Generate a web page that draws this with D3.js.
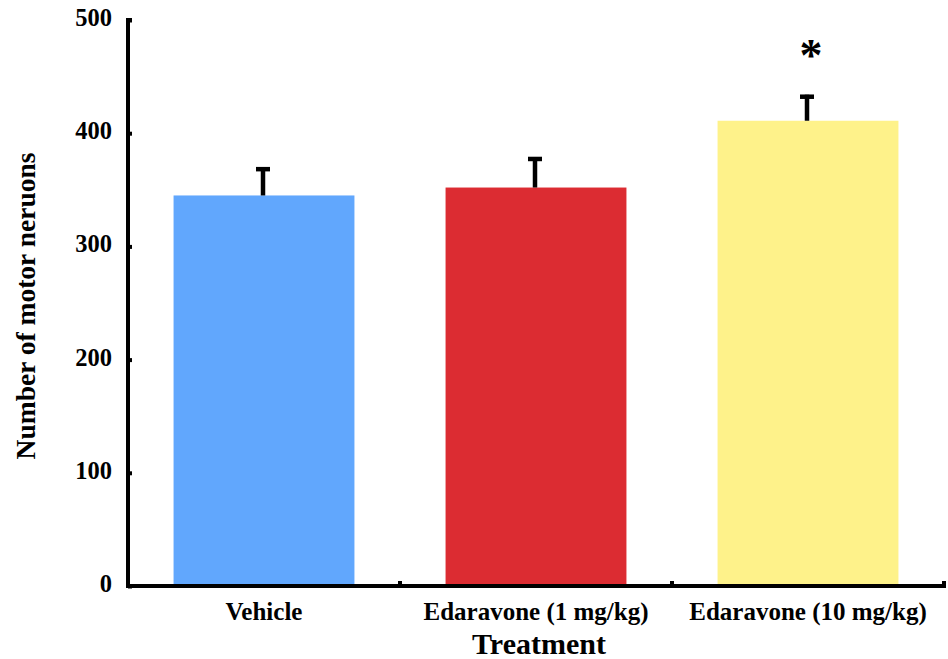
<!DOCTYPE html>
<html><head><meta charset="utf-8">
<script src="https://cdn.jsdelivr.net/npm/d3@7"></script>
<style>body{margin:0;background:#fff}svg{display:block}text{font-family:"Liberation Serif","Times New Roman",serif;font-weight:bold}</style>
</head><body>
<svg id="c" width="948" height="659"></svg>
<script>
const categories = ["Vehicle", "Edaravone (1 mg/kg)", "Edaravone (10 mg/kg)"];
const values = [345, 352, 411];
const errors = [25, 27, 23];
const colors = ["#61a7fd", "#dc2c32", "#fef28a"];
const yTicks = [0, 100, 200, 300, 400, 500];
const signif = ["", "", "*"];

const svg = d3.select("#c");
const L = 128, R = 944, T = 20, B = 586;
const x = d3.scaleBand().domain(categories).range([L, R]).paddingInner(0).paddingOuter(0);
const y = d3.scaleLinear().domain([0, 500]).range([B, T]);
const bw = x.bandwidth() * 0.665;

const g = svg.append("g");
g.selectAll("rect.bar").data(categories).join("rect")
  .attr("x", d => x(d) + (x.bandwidth() - bw) / 2)
  .attr("y", (d, i) => y(values[i]))
  .attr("width", bw)
  .attr("height", (d, i) => B - y(values[i]))
  .attr("fill", (d, i) => colors[i]);

// error bars (upper only)
categories.forEach((d, i) => {
  const cx = x(d) + x.bandwidth() / 2 - 1;
  g.append("line").attr("x1", cx).attr("x2", cx)
    .attr("y1", y(values[i])).attr("y2", y(values[i] + errors[i]))
    .attr("stroke", "#000").attr("stroke-width", 4.5);
  g.append("line").attr("x1", cx - 7).attr("x2", cx + 7)
    .attr("y1", y(values[i] + errors[i]) + 2).attr("y2", y(values[i] + errors[i]) + 2)
    .attr("stroke", "#000").attr("stroke-width", 4.5);
  if (signif[i]) {
    g.append("text").attr("x", cx + 4).attr("y", y(values[i] + errors[i]) - 24)
      .attr("text-anchor", "middle").attr("font-size", 46).text(signif[i]);
  }
});

// y axis
const yAxis = d3.axisRight(y).tickValues(yTicks).tickSize(4).tickFormat("");
const ya = svg.append("g").attr("transform", `translate(${L},0)`).call(yAxis);
ya.select(".domain").attr("stroke", "#000").attr("stroke-width", 4).attr("d", `M4,${T}H0V${B + 2}`);
ya.selectAll(".tick line").attr("stroke", "#000").attr("stroke-width", 4);
svg.append("g").selectAll("text").data(yTicks).join("text")
  .attr("x", 112).attr("y", d => y(d) + 6).attr("text-anchor", "end")
  .attr("font-size", 24.5).text(d => d);

// x axis
const xa = svg.append("g").attr("transform", `translate(0,${B})`);
xa.append("line").attr("x1", L - 2).attr("x2", R + 2).attr("y1", 0).attr("y2", 0)
  .attr("stroke", "#000").attr("stroke-width", 4);
const bounds = categories.map(d => x(d) + x.bandwidth());
xa.selectAll("line.tk").data(bounds).join("line")
  .attr("x1", d => d).attr("x2", d => d).attr("y1", 0).attr("y2", -5)
  .attr("stroke", "#000").attr("stroke-width", 4);
xa.selectAll("text").data(categories).join("text")
  .attr("x", d => x(d) + x.bandwidth() / 2).attr("y", 34)
  .attr("text-anchor", "middle").attr("font-size", 25).text(d => d);

svg.append("text").attr("x", 539).attr("y", 654).attr("text-anchor", "middle")
  .attr("font-size", 30).text("Treatment");
svg.append("text").attr("transform", "translate(35,306) rotate(-90)")
  .attr("text-anchor", "middle").attr("font-size", 27.5).text("Number of motor neruons");
</script>
</body></html>
